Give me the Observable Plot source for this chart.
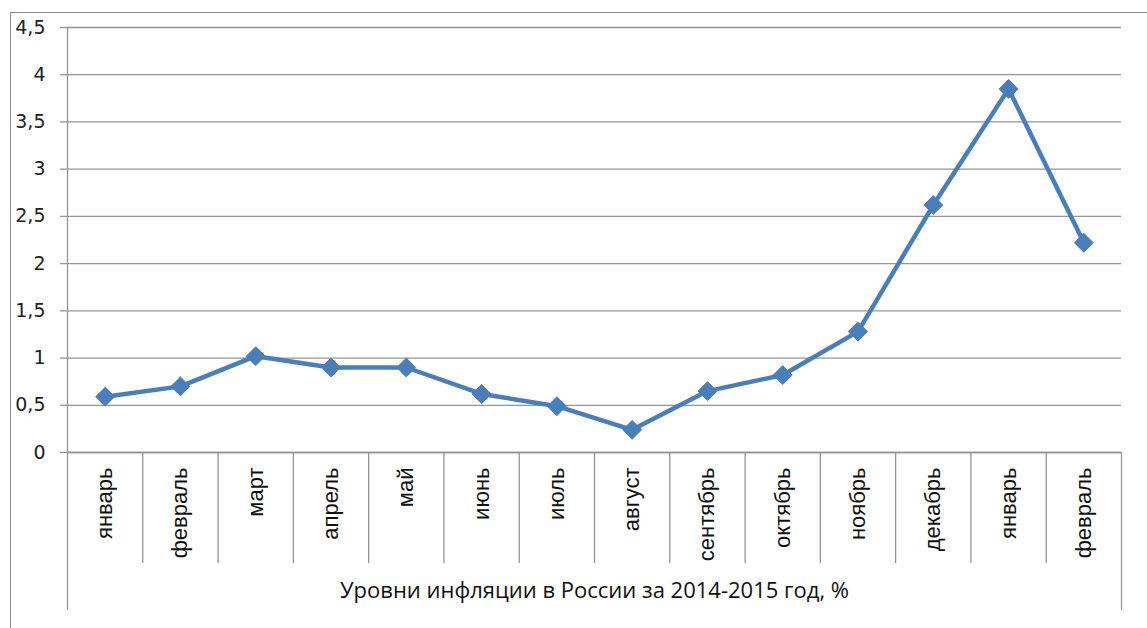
<!DOCTYPE html>
<html>
<head>
<meta charset="utf-8">
<script src="https://cdn.jsdelivr.net/npm/d3@7"></script>
<script src="https://cdn.jsdelivr.net/npm/@observablehq/plot@0.6"></script>
<style>
  html, body { margin: 0; padding: 0; background: #fff; }
  #wrap { position: relative; width: 1147px; height: 628px; overflow: hidden; }
  #frame { position: absolute; left: 10px; top: 12px; right: -2px; bottom: -2px;
           border-top: 1px solid #8a8a8a; border-left: 1px solid #8a8a8a; pointer-events: none; }
  #chart { position: absolute; left: 0; top: 0; }
</style>
</head>
<body>
<div id="wrap"><div id="chart"></div><div id="frame"></div></div>
<script>
const months = ["январь","февраль","март","апрель","май","июнь","июль","август","сентябрь","октябрь","ноябрь","декабрь","январь","февраль"];
const inflation = [0.59, 0.70, 1.02, 0.90, 0.90, 0.62, 0.49, 0.24, 0.65, 0.82, 1.28, 2.62, 3.85, 2.22];
const yTicks = [0, 0.5, 1, 1.5, 2, 2.5, 3, 3.5, 4, 4.5];
const title = "Уровни инфляции в России за 2014-2015 год, %";

const data = months.map((m, i) => ({i, x: i + 0.5, month: m, value: inflation[i]}));
const boundaries = d3.range(1, months.length);
const edges = [0, months.length];
const fmt = d => String(d).replace(".", ",");

const grid = "#959595";
const blue = "#4a7ebb";

const chart = Plot.plot({
  width: 1147,
  height: 628,
  marginLeft: 67,
  marginRight: 26,
  marginTop: 27,
  marginBottom: 176,
  style: {background: "transparent", overflow: "visible"},
  x: {type: "linear", domain: [0, months.length]},
  y: {domain: [0, 4.5]},
  marks: [
    Plot.gridY(yTicks, {stroke: grid, strokeOpacity: 1, strokeWidth: 1.3}),
    Plot.ruleY([0], {stroke: grid, strokeWidth: 1.3}),
    Plot.ruleX([0], {stroke: grid, strokeWidth: 1.3}),
    Plot.axisY(yTicks, {
      tickSize: 7, tickPadding: 15, stroke: grid, strokeWidth: 1.3, tickFormat: fmt,
      fontSize: 19, fontFamily: "DejaVu Sans, sans-serif", fill: "#222", label: null
    }),
    Plot.axisX(boundaries, {
      tickSize: 111, stroke: grid, strokeWidth: 1.3, text: null, label: null
    }),
    Plot.axisX(edges, {
      tickSize: 158, stroke: grid, strokeWidth: 1.3, text: null, label: null
    }),
    Plot.axisX(data.map(d => d.x), {
      tickSize: 0, tickPadding: 15, tickRotate: -90,
      tickFormat: v => months[Math.floor(v)],
      fontSize: 22, fontFamily: "Liberation Sans, Arial, sans-serif", fill: "#111", label: null
    }),
    Plot.line(data, {x: "x", y: "value", stroke: blue, strokeWidth: 4.5, strokeLinejoin: "round"}),
    Plot.dot(data, {x: "x", y: "value", symbol: "diamond2", r: 8.5, fill: blue, stroke: blue, strokeWidth: 1}),
    Plot.text([title], {
      frameAnchor: "bottom", dy: 145, fontSize: 22,
      fontFamily: "Open Sans, sans-serif", fill: "#111"
    })
  ]
});
document.getElementById("chart").appendChild(chart);
</script>
</body>
</html>
